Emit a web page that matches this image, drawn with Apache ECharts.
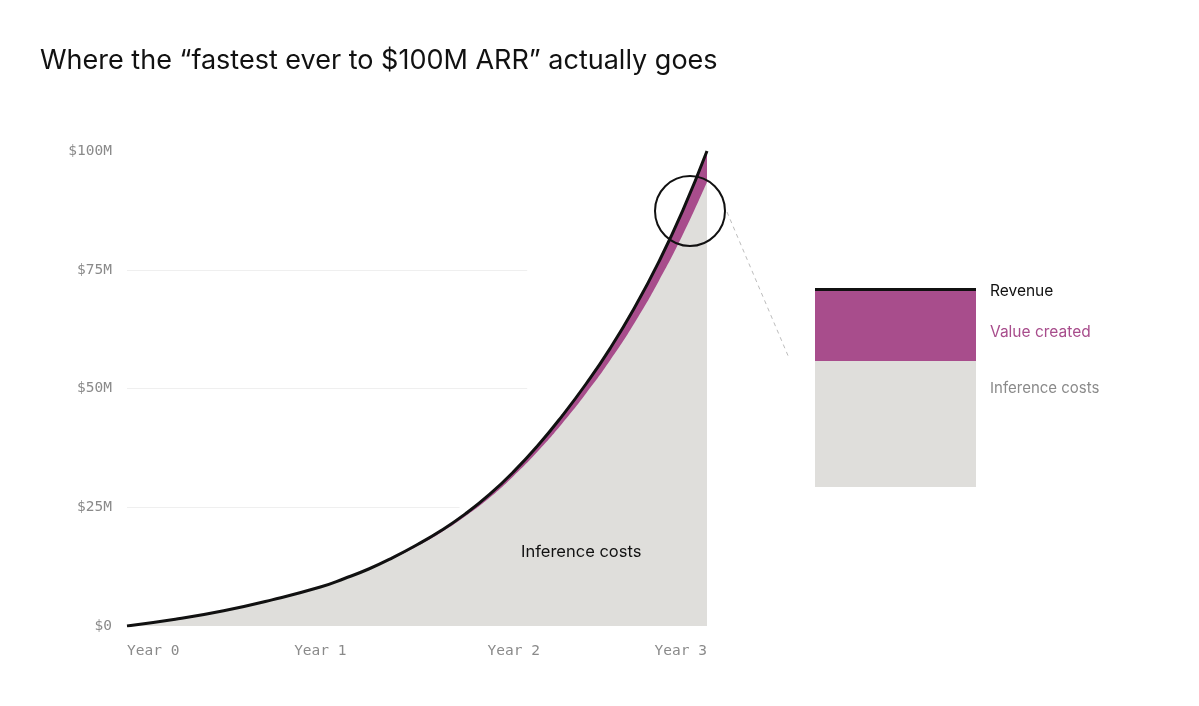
<!DOCTYPE html>
<html><head><meta charset="utf-8">
<script src="https://cdn.jsdelivr.net/npm/echarts@6/dist/echarts.min.js"></script>
<style>html,body{margin:0;padding:0;background:#fff}#c{width:1199px;height:706px}</style>
</head><body><div id="c"></div>
<script>
const years = [0, 0.25, 0.5, 0.75, 1, 1.125, 1.25, 1.375, 1.5, 1.625, 1.75, 1.875, 2, 2.125, 2.25, 2.375, 2.5, 2.625, 2.75, 2.875, 3];
const revenue = [0, 1.4, 3.2, 5.5, 8.2, 10.0, 12.0, 14.4, 17.1, 20.1, 23.6, 27.7, 32.5, 38.0, 44.2, 51.0, 58.5, 67.0, 76.6, 87.5, 100];
const inference = [0, 1.4, 3.2, 5.5, 8.15, 9.92, 11.88, 14.2, 16.8, 19.7, 23.1, 27.0, 31.6, 36.8, 42.6, 49.0, 56.0, 63.8, 72.6, 82.4, 93.5];
const yTickLabels = ['$0', '$25M', '$50M', '$75M', '$100M'];
const xTickLabels = ['Year 0', 'Year 1', 'Year 2', 'Year 3'];
const gridLevels = [25, 50, 75];
const gridEnds = [1.72, 2.07, 2.07];

const PURPLE = '#a84d8c', GRAY = '#dfdedb', INK = '#111111', MUTED = '#8a8a8a';
const SANS = 'Inter, "Noto Sans", sans-serif';
const MONO = '"DejaVu Sans Mono", "Liberation Mono", monospace';

const pts = arr => years.map((t, i) => [t, arr[i]]);

const chart = echarts.init(document.getElementById('c'), null, {renderer: 'canvas'});
chart.setOption({
  animation: false,
  backgroundColor: '#fff',
  grid: {left: 127, right: 492, top: 151, bottom: 80, containLabel: false},
  xAxis: {
    type: 'value', min: 0, max: 3, interval: 1,
    axisLine: {show: false}, axisTick: {show: false}, splitLine: {show: false},
    axisLabel: {
      formatter: v => xTickLabels[Math.round(v)],
      color: MUTED, fontFamily: MONO, fontSize: 14.5, margin: 18,
      alignMinLabel: 'left', alignMaxLabel: 'right'
    }
  },
  yAxis: {
    type: 'value', min: 0, max: 100, interval: 25,
    axisLine: {show: false}, axisTick: {show: false}, splitLine: {show: false},
    axisLabel: {
      formatter: v => yTickLabels[Math.round(v / 25)],
      color: MUTED, fontFamily: MONO, fontSize: 14.5, margin: 15
    }
  },
  title: {
    text: 'Where the \u201cfastest ever to $100M ARR\u201d actually goes',
    left: 35, top: 42,
    textStyle: {fontFamily: SANS, fontSize: 27, fontWeight: 400, color: INK}
  },
  series: [
    {
      name: 'Value created', type: 'line', z: 1, data: pts(revenue),
      smooth: 0.5, symbol: 'none',
      lineStyle: {width: 0}, areaStyle: {color: PURPLE, opacity: 1},
      markLine: {
        silent: true, symbol: 'none', label: {show: false}, z: 0,
        lineStyle: {color: '#efefef', width: 1, type: 'solid'},
        data: gridLevels.map((v, i) => [{coord: [0, v]}, {coord: [gridEnds[i], v]}])
      }
    },
    {
      name: 'Inference costs', type: 'line', z: 2, data: pts(inference),
      smooth: 0.5, symbol: 'none',
      lineStyle: {width: 0}, areaStyle: {color: GRAY, opacity: 1}
    },
    {
      name: 'Revenue', type: 'line', z: 3, data: pts(revenue),
      smooth: 0.5, symbol: 'none',
      lineStyle: {width: 3, color: INK}
    }
  ]
});

const lx = 815, lw = 161;
chart.setOption({
  graphic: [
    {type: 'rect', shape: {x: lx, y: 291, width: lw, height: 70}, style: {fill: PURPLE}},
    {type: 'rect', shape: {x: lx, y: 361, width: lw, height: 126}, style: {fill: GRAY}},
    {type: 'rect', shape: {x: lx, y: 288, width: lw, height: 3}, style: {fill: INK}},
    {type: 'text', x: 990, y: 291, style: {text: 'Revenue', fill: INK, font: '400 15.5px ' + SANS, textVerticalAlign: 'middle'}},
    {type: 'text', x: 990, y: 332, style: {text: 'Value created', fill: PURPLE, font: '400 15.5px ' + SANS, textVerticalAlign: 'middle'}},
    {type: 'text', x: 990, y: 388, style: {text: 'Inference costs', fill: MUTED, font: '400 15px ' + SANS, textVerticalAlign: 'middle'}},
    {type: 'text', x: 521, y: 552, style: {text: 'Inference costs', fill: INK, font: '400 16.5px ' + SANS, textVerticalAlign: 'middle'}, z: 10},
    {type: 'circle', shape: {cx: 690, cy: 211, r: 35}, style: {fill: 'none', stroke: INK, lineWidth: 2}, z: 10},
    {type: 'line', shape: {x1: 727, y1: 212, x2: 789, y2: 358}, style: {stroke: '#bdbdbd', lineWidth: 1, lineDash: [4, 4]}, z: 10}
  ]
});
</script></body></html>
